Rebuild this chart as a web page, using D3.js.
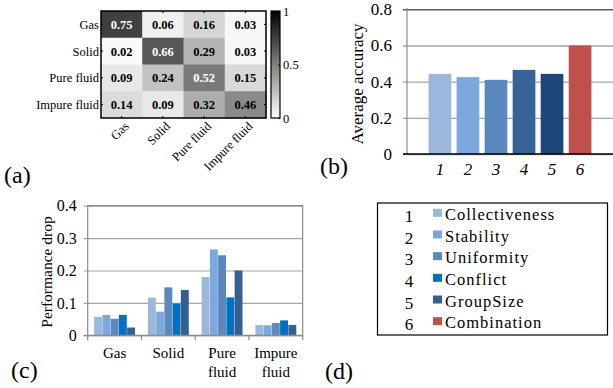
<!DOCTYPE html>
<html>
<head>
<meta charset="utf-8">
<script src="https://cdn.jsdelivr.net/npm/d3@7.9.0/dist/d3.min.js"></script>
<style>
  body { margin: 0; background: #fff; }
  svg { display: block; }
  svg text { font-family: "Liberation Serif", "Times New Roman", serif; }
</style>
</head>
<body>
<svg id="fig" width="613" height="388"></svg>
<script>
// ---- data ----
const classes = ['Gas', 'Solid', 'Pure fluid', 'Impure fluid'];
const confusion = [
  [0.75, 0.06, 0.16, 0.03],
  [0.02, 0.66, 0.29, 0.03],
  [0.09, 0.24, 0.52, 0.15],
  [0.14, 0.09, 0.32, 0.46]
];
const colorbarTicks = [0, 0.5, 1];

const featureIds = ['1', '2', '3', '4', '5', '6'];
const featureNames = ['Collectiveness', 'Stability', 'Uniformity', 'Conflict', 'GroupSize', 'Combination'];
const accuracy = [0.443, 0.425, 0.41, 0.465, 0.443, 0.60];
const accuracyTicks = [0, 0.2, 0.4, 0.6, 0.8];

const dropFeatures = featureNames.slice(0, 5);
const dropGas = [0.057, 0.063, 0.051, 0.063, 0.024];
const dropSolid = [0.116, 0.073, 0.148, 0.098, 0.140];
const dropPure = [0.180, 0.265, 0.247, 0.117, 0.200];
const dropImpure = [0.032, 0.031, 0.038, 0.046, 0.032];
const dropTicks = [0, 0.1, 0.2, 0.3, 0.4];

// colours
const accColors = ['#9bb8db', '#7ca8de', '#5a88bf', '#386397', '#1f4678', '#c0504d'];
const legendColors = ['#9bb8db', '#7ca8de', '#5a88bf', '#0070c0', '#365f91', '#c0504d'];

const svg = d3.select('#fig');

// ================= (a) confusion matrix =================
const hx = d3.scaleBand().domain(classes).range([101, 266]);
const hy = d3.scaleBand().domain(classes).range([11, 118]);
const gray = d3.scaleLinear().domain([0, 1]).range(['#ffffff', '#000000']);

const cells = [];
confusion.forEach((row, i) => row.forEach((v, j) => cells.push({r: classes[i], c: classes[j], v})));

const hm = svg.append('g');
hm.selectAll('rect.cell').data(cells).join('rect')
  .attr('x', d => hx(d.c)).attr('y', d => hy(d.r))
  .attr('width', hx.bandwidth() + 0.5).attr('height', hy.bandwidth() + 0.5)
  .attr('fill', d => gray(d.v));

hm.selectAll('text.val').data(cells).join('text')
  .attr('x', d => hx(d.c) + hx.bandwidth() / 2)
  .attr('y', d => hy(d.r) + hy.bandwidth() / 2)
  .attr('dy', '0.35em')
  .attr('text-anchor', 'middle')
  .attr('font-size', 12.5).attr('font-weight', 'bold')
  .attr('fill', d => d.v > 0.5 ? '#fff' : '#000')
  .text(d => d.v.toFixed(2));

hm.append('rect').attr('x', 101).attr('y', 11).attr('width', 165).attr('height', 107)
  .attr('fill', 'none').attr('stroke', '#000').attr('stroke-width', 1.5);

// small inward ticks
classes.forEach(c => {
  const cxp = hx(c) + hx.bandwidth() / 2, cyp = hy(c) + hy.bandwidth() / 2;
  hm.append('line').attr('x1', cxp).attr('x2', cxp).attr('y1', 11).attr('y2', 13).attr('stroke', '#000');
  hm.append('line').attr('x1', cxp).attr('x2', cxp).attr('y1', 116).attr('y2', 118).attr('stroke', '#000');
  hm.append('line').attr('x1', 101).attr('x2', 103).attr('y1', cyp).attr('y2', cyp).attr('stroke', '#000');
  hm.append('line').attr('x1', 264).attr('x2', 266).attr('y1', cyp).attr('y2', cyp).attr('stroke', '#000');
});

hm.selectAll('text.row').data(classes).join('text')
  .attr('x', 99).attr('y', d => hy(d) + hy.bandwidth() / 2).attr('dy', '0.35em')
  .attr('text-anchor', 'end').attr('font-size', 12.5)
  .text(d => d);

hm.selectAll('text.col').data(classes).join('text')
  .attr('transform', d => `translate(${hx(d) + hx.bandwidth() / 2 + 8},${127}) rotate(-45)`)
  .attr('text-anchor', 'end').attr('font-size', 12.5)
  .text(d => d);

// colorbar
const defs = svg.append('defs');
const grad = defs.append('linearGradient').attr('id', 'cb').attr('x1', 0).attr('x2', 0).attr('y1', 0).attr('y2', 1);
grad.append('stop').attr('offset', '0%').attr('stop-color', gray(1));
grad.append('stop').attr('offset', '100%').attr('stop-color', gray(0));
const cbY = d3.scaleLinear().domain([0, 1]).range([118, 11]);
svg.append('rect').attr('x', 271).attr('y', 11).attr('width', 9).attr('height', 107)
  .attr('fill', 'url(#cb)').attr('stroke', '#000').attr('stroke-width', 1.2);
const cbAxis = svg.append('g').attr('transform', 'translate(280,0)')
  .call(d3.axisLeft(cbY).tickValues(colorbarTicks).tickSize(2).tickFormat(d => d));
cbAxis.select('.domain').remove();
cbAxis.selectAll('line').attr('stroke', '#000');
cbAxis.selectAll('text').attr('x', 3).attr('text-anchor', 'start')
  .attr('font-size', 12.5).attr('fill', '#000');

// ================= (b) average accuracy =================
const bx = d3.scaleBand().domain(featureIds).range([407, 613]).paddingInner(0.19).paddingOuter(0.77);
const by = d3.scaleLinear().domain([0, 0.8]).range([154, 9.3]);

const bGrid = svg.append('g').attr('transform', 'translate(407,0)')
  .call(d3.axisLeft(by).tickValues(accuracyTicks).tickSize(-206).tickPadding(15)
    .tickFormat(d => d === 0 ? '0' : d3.format('.1f')(d)));
bGrid.select('.domain').remove();
bGrid.selectAll('line').attr('x1', -4).attr('stroke', '#a6a6a6').attr('stroke-width', 1.4);
bGrid.selectAll('.tick').filter(d => d === 0.8).select('line').attr('stroke', '#595959').attr('stroke-width', 1.6);
bGrid.selectAll('text').attr('font-size', 17).attr('fill', '#000');

svg.append('line').attr('x1', 407).attr('x2', 407).attr('y1', 8).attr('y2', 154)
  .attr('stroke', '#8c8c8c').attr('stroke-width', 1.2);

svg.append('g').selectAll('rect').data(accuracy).join('rect')
  .attr('x', (d, i) => bx(featureIds[i]))
  .attr('y', d => by(d))
  .attr('width', bx.bandwidth())
  .attr('height', d => by(0) - by(d))
  .attr('fill', (d, i) => accColors[i]);

svg.append('line').attr('x1', 403).attr('x2', 613).attr('y1', by(0)).attr('y2', by(0))
  .attr('stroke', '#000').attr('stroke-width', 1.3);

const bAxis = svg.append('g').attr('transform', `translate(0,${by(0)})`)
  .call(d3.axisBottom(bx).tickSize(0).tickPadding(9));
bAxis.select('.domain').remove();
bAxis.selectAll('text').attr('font-size', 17).attr('font-style', 'italic').attr('fill', '#000');

svg.append('text').attr('transform', 'translate(363,84) rotate(-90)')
  .attr('text-anchor', 'middle').attr('font-size', 17).text('Average accuracy');

// ================= (c) performance drop =================
const dropByClass = [dropGas, dropSolid, dropPure, dropImpure];
const cx0 = d3.scaleBand().domain(classes).range([87.7, 302.7]);
const cx1 = d3.scaleBand().domain(dropFeatures).range([0, cx0.bandwidth()]).paddingInner(0.04).paddingOuter(0.78);
const cy = d3.scaleLinear().domain([0, 0.4]).range([335.3, 205.7]);

const cGrid = svg.append('g').attr('transform', 'translate(87.7,0)')
  .call(d3.axisLeft(cy).tickValues(dropTicks).tickSize(-215).tickPadding(11)
    .tickFormat(d => d === 0 ? '0' : d3.format('.1f')(d)));
cGrid.select('.domain').remove();
cGrid.selectAll('line').attr('x1', -4).attr('stroke', '#a6a6a6').attr('stroke-width', 1.2);
cGrid.selectAll('text').attr('font-size', 16).attr('fill', '#000');

// frame
svg.append('path')
  .attr('d', `M87.7,${cy(0)}V${cy(0.4)}H302.7V${cy(0)}`)
  .attr('fill', 'none').attr('stroke', '#8c8c8c').attr('stroke-width', 1.2);

const groups = svg.append('g').selectAll('g').data(dropByClass).join('g')
  .attr('transform', (d, i) => `translate(${cx0(classes[i])},0)`);
groups.selectAll('rect').data(d => d).join('rect')
  .attr('x', (d, i) => cx1(dropFeatures[i]))
  .attr('y', d => cy(d))
  .attr('width', cx1.bandwidth())
  .attr('height', d => cy(0) - cy(d))
  .attr('fill', (d, i) => legendColors[i]);

svg.append('line').attr('x1', 83.7).attr('x2', 302.7).attr('y1', cy(0)).attr('y2', cy(0))
  .attr('stroke', '#8c8c8c').attr('stroke-width', 1.3);

// group boundary ticks
const bounds = classes.map(c => cx0(c)).concat([cx0.range()[1]]);
svg.append('g').selectAll('line').data(bounds).join('line')
  .attr('x1', d => d).attr('x2', d => d).attr('y1', cy(0)).attr('y2', cy(0) + 5)
  .attr('stroke', '#8c8c8c').attr('stroke-width', 1.2);

const cAxis = svg.append('g').attr('transform', `translate(0,${cy(0)})`)
  .call(d3.axisBottom(cx0).tickSize(0).tickFormat(''));
cAxis.select('.domain').remove();
cAxis.selectAll('.tick').append('text')
  .attr('font-size', 15).attr('text-anchor', 'middle').attr('fill', '#000')
  .each(function (d) {
    const words = d.split(' ');
    d3.select(this).selectAll('tspan').data(words).join('tspan')
      .attr('x', 0).attr('y', (w, k) => 23 + k * 19).text(w => w);
  });

svg.append('text').attr('transform', 'translate(52,272) rotate(-90)')
  .attr('text-anchor', 'middle').attr('font-size', 15.5).text('Performance drop');

// ================= (d) legend =================
svg.append('rect').attr('x', 377.5).attr('y', 203).attr('width', 230).attr('height', 132)
  .attr('fill', 'none').attr('stroke', '#000').attr('stroke-width', 1.2);
const ly = d3.scaleBand().domain(featureIds).range([204, 334]);
const lg = svg.append('g').selectAll('g').data(featureIds).join('g')
  .attr('transform', d => `translate(0,${ly(d) + ly.bandwidth() / 2})`);
lg.append('text').attr('x', 409).attr('y', 7).attr('text-anchor', 'middle')
  .attr('font-size', 17).text(d => d);
lg.append('rect').attr('x', 433).attr('y', -6).attr('width', 9).attr('height', 8)
  .attr('fill', (d, i) => legendColors[i]);
lg.append('text').attr('x', 445).attr('y', 5).attr('font-size', 16.5)
  .attr('letter-spacing', 1).text((d, i) => featureNames[i]);

// ================= panel labels =================
const panelLabels = [['(a)', 4, 183], ['(b)', 320, 174], ['(c)', 11, 378], ['(d)', 325, 379]];
svg.append('g').selectAll('text').data(panelLabels).join('text')
  .attr('x', d => d[1]).attr('y', d => d[2]).attr('font-size', 24).text(d => d[0]);
</script>
</body>
</html>
